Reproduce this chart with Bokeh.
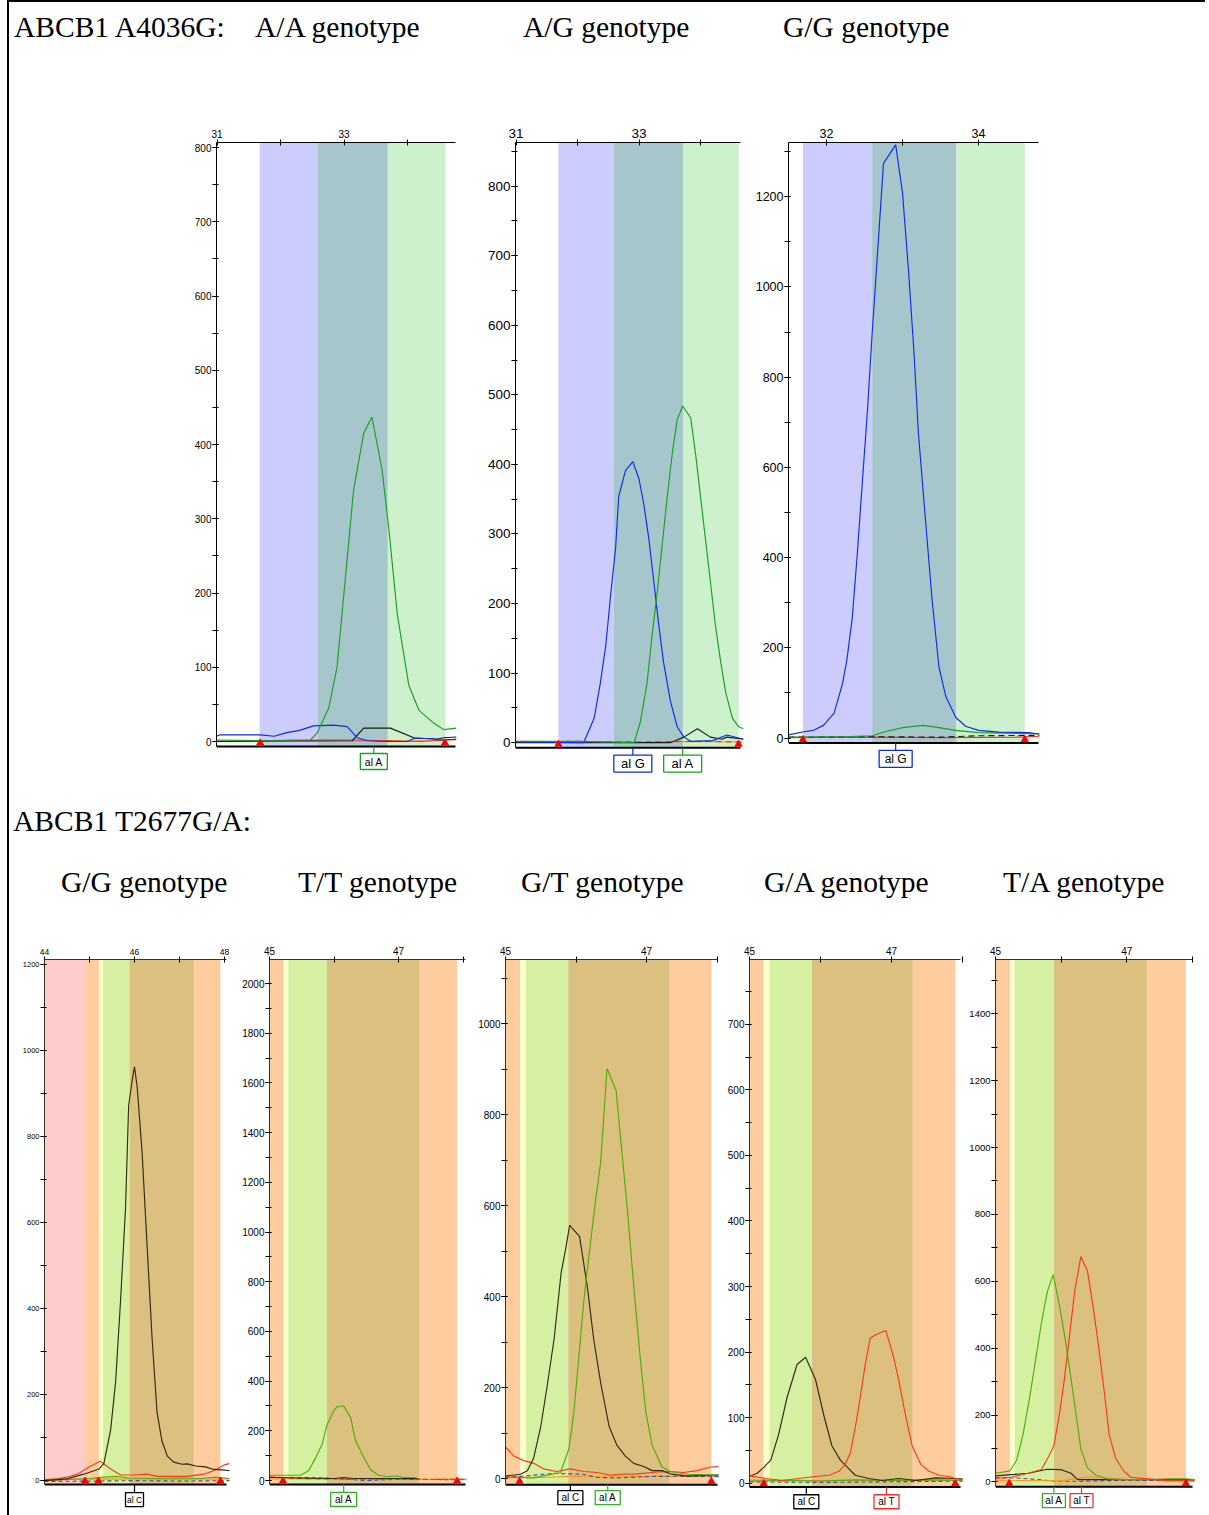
from bokeh.plotting import figure
from bokeh.models import Range1d, FixedTicker, SingleIntervalTicker, Spacer, Div
from bokeh.layouts import row, column
from bokeh.embed import file_html
from bokeh.resources import INLINE
from bokeh.core.properties import value

# ======================= DATA =======================
section_titles = ["ABCB1 A4036G:", "ABCB1 T2677G/A:"]
top_genotypes = ["A/A genotype", "A/G genotype", "G/G genotype"]
bottom_genotypes = ["G/G genotype", "T/T genotype", "G/T genotype", "G/A genotype", "T/A genotype"]

# ---- Panel 1: A4036G, A/A ----
p1_bins = [31.67, 32.59, 33.69, 34.60]
p1_blue_x = [30.99, 31.05, 31.68, 31.9, 32.1, 32.3, 32.52, 32.84, 33.05, 33.21, 33.37, 33.6, 34.0, 34.1, 34.4, 34.5, 34.77]
p1_blue_y = [7, 9, 9, 7, 12, 15, 21, 22, 20, 5, 1, 0, 0, 4, 4, 2, 3]
p1_green_x = [30.99, 31.7, 32.2, 32.45, 32.58, 32.76, 32.89, 33.0, 33.15, 33.31, 33.44, 33.6, 33.71, 33.84, 34.02, 34.18, 34.41, 34.57, 34.77]
p1_green_y = [2, 1, 1, 0, 12, 45, 100, 200, 338, 415, 437, 366, 283, 171, 76, 42, 25, 16, 18]
p1_black_x = [30.99, 33.13, 33.31, 33.73, 34.1, 34.45, 34.57, 34.77]
p1_black_y = [0, 1, 18, 18, 5, 3, 5, 6]
p1_red_x = [30.99, 31.68, 32.2, 33.0, 33.8, 34.2, 34.6, 34.77]
p1_red_y = [0, 1, 2, 2, 1, 0, 2, 3]
p1_orange_x = [30.99, 32.0, 33.0, 34.0, 34.77]
p1_orange_y = [1, 1, 0, 1, 2]
p1_markers = [31.68, 34.59]
p1_alleles = ["al A"]
p1_allele_x = [33.47]

# ---- Panel 2: A4036G, A/G ----
p2_bins = [31.69, 32.585, 33.72, 34.62]
p2_blue_x = [30.99, 32.10, 32.27, 32.37, 32.46, 32.54, 32.62, 32.67, 32.78, 32.90, 33.00, 33.08, 33.16, 33.24, 33.32, 33.40, 33.51, 33.62, 33.73, 33.84, 34.2, 34.43, 34.70]
p2_blue_y = [1, 0, 35, 85, 140, 213, 280, 354, 391, 404, 379, 342, 293, 232, 170, 115, 60, 23, 8, 2, 3, 11, 5]
p2_green_x = [30.99, 32.0, 32.92, 33.02, 33.13, 33.21, 33.30, 33.38, 33.46, 33.54, 33.62, 33.71, 33.84, 33.92, 34.00, 34.08, 34.16, 34.24, 34.33, 34.41, 34.52, 34.62, 34.70]
p2_green_y = [2, 2, 0, 29, 85, 152, 219, 287, 354, 415, 464, 484, 467, 415, 354, 293, 232, 170, 115, 72, 35, 23, 20]
p2_black_x = [30.99, 33.51, 33.73, 33.95, 34.16, 34.35, 34.43, 34.70]
p2_black_y = [0, 0, 8, 20, 8, 5, 8, 5]
p2_red_x = [30.99, 32.0, 33.0, 34.0, 34.70]
p2_red_y = [1, 2, 1, 2, 1]
p2_orange_x = [30.99, 32.5, 33.5, 34.70]
p2_orange_y = [2, 1, 2, 1]
p2_markers = [31.69, 34.62]
p2_alleles = ["al G", "al A"]
p2_allele_x = [32.90, 33.71]

# ---- Panel 3: A4036G, G/G ----
p3_bins = [31.69, 32.60, 33.71, 34.61]
p3_blue_x = [31.50, 31.70, 31.83, 31.96, 32.10, 32.21, 32.27, 32.34, 32.40, 32.47, 32.54, 32.60, 32.67, 32.75, 32.91, 33.0, 33.08, 33.15, 33.21, 33.30, 33.39, 33.48, 33.57, 33.70, 33.83, 34.0, 34.27, 34.66, 34.80]
p3_blue_y = [7, 14, 17, 28, 55, 120, 175, 268, 397, 563, 729, 895, 1071, 1274, 1315, 1209, 1034, 858, 674, 489, 305, 157, 92, 46, 26, 17, 13, 12, 9]
p3_green_x = [31.5, 32.3, 32.6, 32.77, 33.0, 33.27, 33.48, 33.7, 34.0, 34.80]
p3_green_y = [2, 3, 5, 14, 23, 28, 23, 17, 12, 9]
p3_black_x = [31.5, 32.5, 33.5, 34.0, 34.80]
p3_black_y = [2, 3, 2, 5, 6]
p3_red_x = [31.5, 32.5, 33.5, 34.5, 34.80]
p3_red_y = [1, 2, 1, 2, 4]
p3_markers = [31.69, 34.61]
p3_alleles = ["al G"]
p3_allele_x = [32.91]

# ---- Panel 4: T2677G/A, G/G ----
p4_bins = [44.0, 44.90, 45.21, 45.30, 45.89, 47.32, 47.91]
p4_black_x = [44.0, 44.50, 44.87, 45.10, 45.21, 45.32, 45.47, 45.58, 45.69, 45.80, 45.87, 45.95, 46.0, 46.06, 46.17, 46.28, 46.39, 46.50, 46.61, 46.73, 46.87, 47.06, 47.17, 47.36, 47.58, 47.76, 47.95, 48.12]
p4_black_y = [0, 4, 15, 23, 27, 40, 118, 229, 418, 632, 872, 932, 962, 915, 761, 546, 332, 160, 92, 57, 43, 38, 39, 34, 32, 26, 25, 23]
p4_red_x = [44.0, 44.27, 44.5, 44.73, 45.0, 45.24, 45.47, 45.69, 45.98, 46.28, 46.5, 46.87, 47.17, 47.54, 47.76, 47.98, 48.12]
p4_red_y = [2, 4, 8, 15, 32, 45, 27, 13, 13, 15, 10, 10, 10, 15, 23, 36, 40]
p4_green_x = [44.0, 45.0, 45.3, 45.6, 45.9, 46.5, 47.0, 47.5, 47.8, 48.12]
p4_green_y = [0, 5, 8, 10, 6, 5, 6, 5, 8, 5]
p4_blue_x = [44.0, 45.0, 46.0, 47.0, 48.12]
p4_blue_y = [-2, -1, 0, -1, 0]
p4_orange_x = [44.0, 45.5, 47.0, 48.12]
p4_orange_y = [3, 4, 3, 4]
p4_markers = [44.90, 45.20, 47.91]
p4_alleles = ["al C"]
p4_allele_x = [46.0]

# ---- Panel 5: T2677G/A, T/T ----
p5_bins = [45.0, 45.22, 45.29, 45.89, 47.33, 47.91]
p5_green_x = [45.0, 45.48, 45.61, 45.71, 45.82, 45.89, 46.0, 46.05, 46.15, 46.26, 46.33, 46.44, 46.57, 46.69, 46.82, 46.98, 47.08, 47.26]
p5_green_y = [21, 21, 40, 89, 148, 223, 282, 297, 301, 252, 163, 104, 42, 21, 15, 18, 12, 12]
p5_black_x = [45.0, 45.5, 46.0, 46.15, 46.3, 46.6, 47.0, 47.3]
p5_black_y = [12, 10, 8, 12, 8, 8, 8, 8]
p5_red_x = [45.0, 45.2, 45.5, 46.0, 46.5, 47.0, 47.5, 47.9, 48.06]
p5_red_y = [15, 12, 8, 6, 5, 6, 4, 5, 4]
p5_blue_x = [45.0, 45.6, 46.0, 46.5, 47.0, 48.06]
p5_blue_y = [12, 12, 8, 0, 5, 3]
p5_orange_x = [45.0, 46.0, 47.0, 48.06]
p5_orange_y = [6, 7, 5, 6]
p5_markers = [45.21, 47.91]
p5_alleles = ["al A"]
p5_allele_x = [46.15]

# ---- Panel 6: T2677G/A, G/T ----
p6_bins = [45.0, 45.21, 45.29, 45.89, 47.33, 47.92]
p6_black_x = [45.0, 45.21, 45.31, 45.40, 45.50, 45.59, 45.69, 45.79, 45.85, 45.91, 46.05, 46.16, 46.25, 46.35, 46.47, 46.58, 46.70, 46.82, 46.96, 47.08, 47.22, 47.34, 47.58, 47.91, 48.03]
p6_black_y = [6, 10, 18, 46, 115, 203, 308, 454, 502, 557, 533, 423, 308, 211, 115, 74, 50, 34, 27, 18, 18, 11, 6, 8, 8]
p6_green_x = [45.0, 45.40, 45.78, 45.90, 45.97, 46.04, 46.11, 46.18, 46.28, 46.35, 46.44, 46.57, 46.63, 46.73, 46.82, 46.91, 46.99, 47.08, 47.22, 47.34, 47.58, 48.03]
p6_green_y = [3, 2, 14, 66, 147, 268, 389, 486, 615, 696, 902, 853, 752, 591, 421, 268, 147, 74, 26, 16, 10, 8]
p6_red_x = [45.0, 45.12, 45.26, 45.40, 45.54, 45.73, 45.92, 46.11, 46.30, 46.49, 46.63, 46.87, 47.15, 47.34, 47.53, 47.72, 47.91, 48.03]
p6_red_y = [70, 50, 40, 34, 22, 16, 22, 16, 14, 8, 10, 11, 15, 16, 14, 18, 26, 27]
p6_blue_x = [45.0, 45.4, 45.7, 46.1, 46.3, 46.6, 47.0, 47.5, 48.03]
p6_blue_y = [3, 8, 12, 10, 3, 2, 5, 6, 5]
p6_orange_x = [45.0, 45.5, 46.0, 46.6, 47.2, 48.03]
p6_orange_y = [5, 3, 6, 4, 6, 5]
p6_markers = [45.20, 47.92]
p6_alleles = ["al C", "al A"]
p6_allele_x = [45.92, 46.45]

# ---- Panel 7: T2677G/A, G/A ----
p7_bins = [45.0, 45.20, 45.28, 45.88, 47.30, 47.90]
p7_black_x = [45.0, 45.11, 45.20, 45.30, 45.41, 45.53, 45.67, 45.79, 45.93, 46.05, 46.16, 46.28, 46.38, 46.49, 46.68, 46.87, 47.10, 47.34, 47.62, 47.90, 48.01]
p7_black_y = [10, 15, 24, 35, 74, 131, 181, 192, 158, 102, 57, 35, 24, 12, 7, 4, 7, 4, 8, 7, 6]
p7_red_x = [45.0, 45.23, 45.46, 45.69, 45.93, 46.12, 46.26, 46.35, 46.42, 46.49, 46.56, 46.63, 46.70, 46.77, 46.92, 47.03, 47.10, 47.20, 47.29, 47.41, 47.53, 47.67, 47.81, 47.90, 48.01]
p7_red_y = [11, 7, 4, 7, 10, 12, 18, 29, 46, 85, 131, 181, 221, 226, 233, 192, 158, 102, 57, 29, 18, 12, 10, 7, 6]
p7_green_x = [45.0, 45.5, 46.0, 46.5, 47.0, 47.5, 48.01]
p7_green_y = [3, 4, 3, 5, 4, 5, 4]
p7_blue_x = [45.0, 46.0, 47.0, 48.01]
p7_blue_y = [2, 1, 2, 3]
p7_orange_x = [45.0, 46.0, 47.0, 48.01]
p7_orange_y = [5, 4, 5, 5]
p7_markers = [45.20, 47.90]
p7_alleles = ["al C", "al T"]
p7_allele_x = [45.80, 46.93]

# ---- Panel 8: T2677G/A, T/A ----
p8_bins = [45.0, 45.22, 45.29, 45.89, 47.31, 47.90]
p8_green_x = [45.0, 45.22, 45.32, 45.42, 45.52, 45.62, 45.70, 45.79, 45.88, 45.97, 46.05, 46.15, 46.23, 46.30, 46.40, 46.53, 46.71, 47.01, 47.31, 47.62, 47.90, 48.04]
p8_green_y = [26, 33, 64, 142, 253, 376, 476, 570, 620, 531, 442, 309, 198, 98, 42, 20, 9, 7, 7, 9, 9, 7]
p8_red_x = [45.0, 45.24, 45.50, 45.70, 45.81, 45.89, 45.97, 46.05, 46.13, 46.21, 46.30, 46.40, 46.48, 46.56, 46.66, 46.73, 46.83, 46.96, 47.06, 47.31, 47.62, 48.04]
p8_red_y = [11, 14, 26, 37, 76, 109, 198, 309, 442, 576, 674, 631, 531, 420, 264, 142, 70, 31, 14, 9, 3, 3]
p8_black_x = [45.0, 45.50, 45.79, 45.99, 46.15, 46.25, 48.04]
p8_black_y = [18, 26, 38, 37, 26, 7, 7]
p8_orange_x = [45.0, 46.0, 46.4, 46.6, 47.0, 48.04]
p8_orange_y = [5, 3, 15, 12, 8, 5]
p8_blue_x = [45.0, 45.3, 45.6, 45.9, 46.3, 47.0, 48.04]
p8_blue_y = [12, 12, 8, 2, 2, 5, 4]
p8_markers = [45.21, 47.90]
p8_alleles = ["al A", "al T"]
p8_allele_x = [45.89, 46.31]

# ======================= STYLE / GEOMETRY =======================
UP = dict(blue="#0a2cf0", green="#12a41c", black="#1a1a1a", red="#ff2a1a", orange="#ffa020")
LO = dict(blue="#4646c8", green="#4cb000", black="#2c2a10", red="#ff3814", orange="#ff9a10")
ALLELE_UP = {"A": UP["green"], "G": UP["blue"], "C": "#000000", "T": UP["red"]}
ALLELE_LO = {"A": "#33b020", "G": UP["blue"], "C": "#000000", "T": "#ff2a2a"}
UPPER_BANDS = ["#ccccff", "#a6c6cc", "#cdf0cd"]
LOWER_BANDS = ["#ffcc9e", "#ffffcc", "#d6f0a2", "#dcc080", "#ffcc9e"]
P4_BANDS = ["#ffcccc"] + LOWER_BANDS

FONT = "Liberation Sans"

# page-pixel geometry of each panel (layout origin is the page's top-left corner)
GEO = {
    1: dict(fig=(175, 105, 462, 785), axl=216, frr=456, frt=142, axb=746, xref=(31, 216.5, 63.5), yref=(741, 0.7425), xend=455,
            laby=761, box=(27, 16), tf=10, xf=10, lf=10.5, yint=100),
    2: dict(fig=(462, 105, 745, 785), axl=515, frr=743, frt=139, axb=747, xref=(31, 515.5, 61.5), yref=(742, 0.699), xend=740,
            laby=763, box=(38, 17), tf=13.5, xf=13.5, lf=13, yint=100),
    3: dict(fig=(745, 105, 1045, 785), axl=788, frr=1040, frt=135, axb=742, xref=(32, 826, 76), yref=(737, 0.456), xend=1038,
            laby=758, box=(33, 17), tf=12.5, xf=12.5, lf=12, yint=200),
    4: dict(fig=(9, 922, 236, 1515), axl=44, frr=229, frt=957, axb=1484, xref=(44, 44, 45), yref=(1480, 0.4317), xend=226,
            laby=1499, box=(18, 14), tf=7.5, xf=8.5, lf=8.5, yint=200),
    5: dict(fig=(236, 922, 472, 1515), axl=269, frr=466, frt=959, axb=1484, xref=(45, 269, 64.5), yref=(1480, 0.2485), xend=465,
            laby=1499, box=(26, 14), tf=10, xf=10, lf=10, yint=200),
    6: dict(fig=(472, 922, 722, 1515), axl=505, frr=718, frt=954, axb=1484, xref=(45, 505, 70.5), yref=(1478, 0.459), xend=717,
            laby=1497, box=(25, 14), tf=10, xf=10, lf=10, yint=200),
    7: dict(fig=(722, 922, 966, 1515), axl=749, frr=962, frt=949, axb=1486, xref=(45, 749, 71), yref=(1482, 0.667), xend=960,
            laby=1501, box=(25, 14), tf=10, xf=10, lf=10, yint=100),
    8: dict(fig=(966, 922, 1200, 1515), axl=994, frr=1194, frt=952, axb=1486, xref=(45, 994, 66), yref=(1481, 0.3386), xend=1192,
            laby=1500, box=(23, 14), tf=9.5, xf=10, lf=10, yint=200),
}


def make_panel(n, bins, band_colors, traces, markers, alleles, allele_x, xticks, xminor, upper):
    g = GEO[n]
    fl, ft, fr, fb = g["fig"]
    xv0, xp0, ppx = g["xref"]
    y0p, ppy = g["yref"]

    def xv(px):
        return xv0 + (px - xp0) / ppx

    def yv(py):
        return (y0p - py) / ppy

    x0, x1 = xv(g["axl"]), xv(g["frr"])
    y0, y1 = yv(fb), yv(g["frt"])
    yb = yv(g["axb"])
    axis_col = "#000000" if upper else "#3a3020"

    p = figure(width=fr - fl, height=fb - ft, x_range=Range1d(x0, x1), y_range=Range1d(y0, y1),
               x_axis_location="above", y_axis_location="left", toolbar_location=None,
               output_backend="svg", title=None, margin=0,
               min_border_left=g["axl"] - fl, min_border_right=fr - g["frr"],
               min_border_top=g["frt"] - ft, min_border_bottom=0)
    p.outline_line_color = None
    p.xgrid.visible = False
    p.ygrid.visible = False
    p.background_fill_color = "white"
    p.border_fill_color = "white"

    # bins (coloured allele windows)
    p.quad(left=bins[:-1], right=bins[1:], bottom=yb, top=y1, fill_color=band_colors, line_color=None)

    # traces
    for xs, ys, col, dash in traces:
        p.line(xs, ys, line_color=col, line_width=1.15, line_dash=dash)

    # bottom axis line
    p.segment(x0=[x0], y0=[yb], x1=[xv(g["xend"])], y1=[yb], line_color="#000000", line_width=2)

    # red triangle bin markers
    p.scatter(markers, [yb + 3.5 / ppy] * len(markers), marker="triangle", size=7,
              fill_color="#ff0000", line_color="#ff0000")

    # allele call boxes
    pal = ALLELE_UP if upper else ALLELE_LO
    cols = [pal[a.split()[-1]] for a in alleles]
    bw, bh = g["box"]
    ly = yv(g["laby"])
    btop = yv(g["laby"] - bh / 2)
    p.segment(x0=allele_x, y0=[yb] * len(allele_x), x1=allele_x, y1=[btop] * len(allele_x), line_color=cols, line_width=1.2)
    p.rect(x=allele_x, y=[ly] * len(allele_x), width=bw, height=bh, width_units="screen", height_units="screen",
           fill_color="white", line_color=cols, line_width=1.3)
    p.text(x=allele_x, y=[ly] * len(allele_x), text=alleles, text_align="center", text_baseline="middle",
           text_font=value(FONT), text_font_size=f"{g['lf']}px", text_color="#000000")

    # left axis
    ya = p.yaxis[0]
    ya.ticker = SingleIntervalTicker(interval=g["yint"], num_minor_ticks=2)
    ya.bounds = (yb, y1)
    ya.axis_line_color = axis_col
    ya.major_tick_line_color = "#000000"
    ya.minor_tick_line_color = "#000000"
    ya.major_tick_in = 2
    ya.major_tick_out = 4
    ya.minor_tick_in = 2
    ya.minor_tick_out = 4
    ya.major_label_standoff = 1
    ya.major_label_text_font = FONT
    ya.major_label_text_font_size = f"{g['tf']}px"
    ya.major_label_text_color = "#000000"

    # top axis
    xa = p.xaxis[0]
    xa.ticker = FixedTicker(ticks=xticks, minor_ticks=xminor)
    xa.bounds = (x0, xv(g["xend"]))
    xa.axis_line_color = axis_col
    xa.major_tick_line_color = "#000000"
    xa.minor_tick_line_color = "#000000"
    xa.major_tick_in = 3
    xa.major_tick_out = 3
    xa.minor_tick_in = 3
    xa.minor_tick_out = 3
    xa.major_label_standoff = 2
    xa.major_label_text_font = FONT
    xa.major_label_text_font_size = f"{g['xf']}px"
    xa.major_label_text_color = "#000000"
    return p


def tr(xs, ys, col, dash="solid"):
    return (xs, ys, col, dash)


P1 = make_panel(1, p1_bins, UPPER_BANDS,
                [tr(p1_orange_x, p1_orange_y, UP["orange"]), tr(p1_red_x, p1_red_y, UP["red"]),
                 tr(p1_black_x, p1_black_y, UP["black"]), tr(p1_blue_x, p1_blue_y, UP["blue"]),
                 tr(p1_green_x, p1_green_y, UP["green"])],
                p1_markers, p1_alleles, p1_allele_x, [31, 33], [32, 34], True)
P2 = make_panel(2, p2_bins, UPPER_BANDS,
                [tr(p2_orange_x, p2_orange_y, UP["orange"]), tr(p2_red_x, p2_red_y, UP["red"], "6 4"),
                 tr(p2_black_x, p2_black_y, UP["black"]), tr(p2_blue_x, p2_blue_y, UP["blue"]),
                 tr(p2_green_x, p2_green_y, UP["green"])],
                p2_markers, p2_alleles, p2_allele_x, [31, 33], [32, 34], True)
P3 = make_panel(3, p3_bins, UPPER_BANDS,
                [tr(p3_red_x, p3_red_y, UP["red"]), tr(p3_black_x, p3_black_y, UP["black"], "6 4"),
                 tr(p3_green_x, p3_green_y, UP["green"]), tr(p3_blue_x, p3_blue_y, UP["blue"])],
                p3_markers, p3_alleles, p3_allele_x, [32, 34], [33], True)
P4 = make_panel(4, p4_bins, P4_BANDS,
                [tr(p4_orange_x, p4_orange_y, LO["orange"]), tr(p4_blue_x, p4_blue_y, LO["blue"], "4 3"),
                 tr(p4_green_x, p4_green_y, LO["green"]), tr(p4_red_x, p4_red_y, LO["red"]),
                 tr(p4_black_x, p4_black_y, LO["black"])],
                p4_markers, p4_alleles, p4_allele_x, [44, 46, 48], [45, 47], False)
P5 = make_panel(5, p5_bins, LOWER_BANDS,
                [tr(p5_orange_x, p5_orange_y, LO["orange"]), tr(p5_blue_x, p5_blue_y, LO["blue"], "4 3"),
                 tr(p5_red_x, p5_red_y, LO["red"], "6 3"), tr(p5_black_x, p5_black_y, LO["black"]),
                 tr(p5_green_x, p5_green_y, LO["green"])],
                p5_markers, p5_alleles, p5_allele_x, [45, 47], [46, 48], False)
P6 = make_panel(6, p6_bins, LOWER_BANDS,
                [tr(p6_orange_x, p6_orange_y, LO["orange"]), tr(p6_blue_x, p6_blue_y, LO["blue"], "4 3"),
                 tr(p6_red_x, p6_red_y, LO["red"]), tr(p6_black_x, p6_black_y, LO["black"]),
                 tr(p6_green_x, p6_green_y, LO["green"])],
                p6_markers, p6_alleles, p6_allele_x, [45, 47], [46, 48], False)
P7 = make_panel(7, p7_bins, LOWER_BANDS,
                [tr(p7_orange_x, p7_orange_y, LO["orange"]), tr(p7_blue_x, p7_blue_y, LO["blue"], "4 3"),
                 tr(p7_green_x, p7_green_y, LO["green"]), tr(p7_black_x, p7_black_y, LO["black"]),
                 tr(p7_red_x, p7_red_y, LO["red"])],
                p7_markers, p7_alleles, p7_allele_x, [45, 47], [46, 48], False)
P8 = make_panel(8, p8_bins, LOWER_BANDS,
                [tr(p8_blue_x, p8_blue_y, LO["blue"], "4 3"), tr(p8_orange_x, p8_orange_y, LO["orange"]),
                 tr(p8_black_x, p8_black_y, LO["black"]), tr(p8_green_x, p8_green_y, LO["green"]),
                 tr(p8_red_x, p8_red_y, LO["red"])],
                p8_markers, p8_alleles, p8_allele_x, [45, 47], [46, 48], False)

# ======================= TEXT BLOCKS =======================
SERIF = "'Liberation Serif', 'Times New Roman', serif"
FS = 29.5
BASE = 0.8375 * FS  # baseline offset within a line box of height FS
BORDER_X = 7        # x of the frame's left border line
PAGE_W = 1205


def text_block(height, items, top_bar=False):
    html = f'<div style="position:relative;width:{PAGE_W}px;height:{height}px;overflow:visible;">'
    if top_bar:
        html += (f'<div style="position:absolute;left:{BORDER_X}px;top:0;width:{PAGE_W - BORDER_X}px;'
                 f'height:2px;background:#000;"></div>')
    html += f'<div style="position:absolute;left:{BORDER_X}px;top:0;width:2px;height:{height}px;background:#000;"></div>'
    for left, baseline, txt in items:
        html += (f'<span style="position:absolute;left:{left}px;top:{baseline - BASE:.1f}px;'
                 f'font-family:{SERIF};font-size:{FS}px;line-height:{FS}px;white-space:nowrap;color:#000;">{txt}</span>')
    html += "</div>"
    return Div(text=html, width=PAGE_W, height=height, margin=0)


def bar(height):
    return Div(text=f'<div style="width:2px;height:{height}px;background:#000;"></div>', width=2, height=height, margin=0)


# block coordinates (header starts at page y=0, middle block at page y=785)
header = text_block(105, [(14, 38, section_titles[0]), (255, 38, top_genotypes[0]),
                          (523, 38, top_genotypes[1]), (783, 38, top_genotypes[2])], top_bar=True)
middle = text_block(137, [(13, 47, section_titles[1]), (61, 108, bottom_genotypes[0]),
                          (298, 108, bottom_genotypes[1]), (521, 108, bottom_genotypes[2]),
                          (764, 108, bottom_genotypes[3]), (1003, 108, bottom_genotypes[4])])

row1 = row(Spacer(width=BORDER_X, height=680, margin=0), bar(680), Spacer(width=175 - BORDER_X - 2, height=680, margin=0),
           P1, P2, P3, margin=0, spacing=0)
row2 = row(Spacer(width=BORDER_X, height=593, margin=0), bar(593), P4, P5, P6, P7, P8, margin=0, spacing=0)

layout = column(header, row1, middle, row2, margin=0, spacing=0)

open("out.html", "w").write(file_html(layout, INLINE))
